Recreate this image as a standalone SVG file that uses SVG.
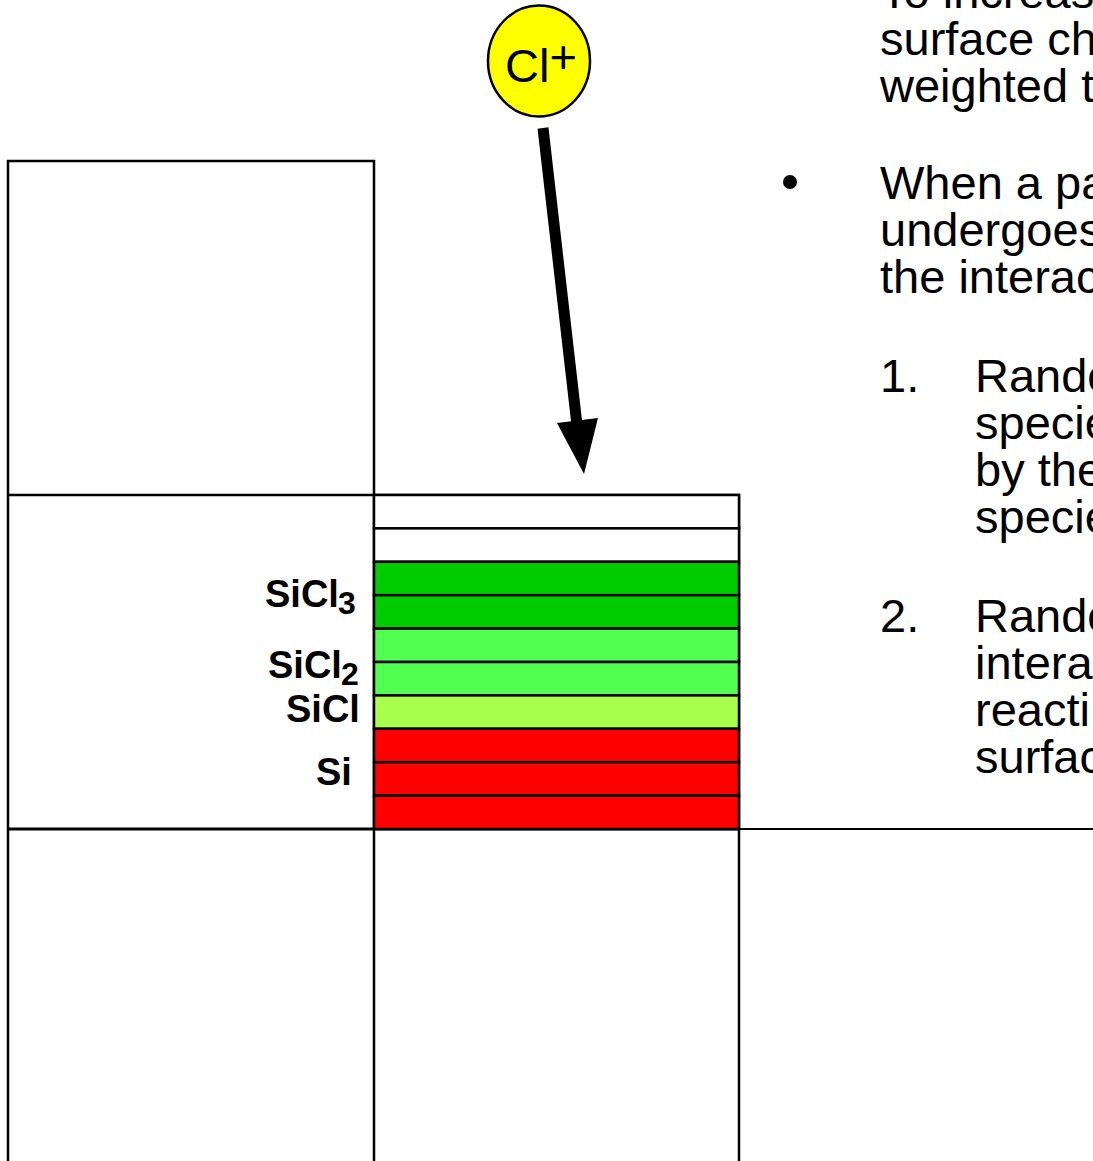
<svg xmlns="http://www.w3.org/2000/svg" width="1093" height="1161" viewBox="0 0 1093 1161">
  <style>
    .grid { stroke: #000; stroke-width: 2.5; fill: none; }
    .layer { stroke: #000; stroke-width: 2.5; }
    .body { font-family: "Liberation Sans", Arial, sans-serif; font-size: 47px; fill: #000; }
    .lbl { font-family: "Liberation Sans", Arial, sans-serif; font-size: 38px; font-weight: bold; fill: #000; }
    .sub { font-size: 32px; }
  </style>

  <rect width="1093" height="1161" fill="#fff"/>

  <!-- surface cells -->
  <g id="grid">
    <path class="grid" d="M8,1161 V161 H374 V1161"/>
    <path class="grid" d="M8,495 H739 V1161"/>
    <path d="M8,829 H739" stroke="#000" stroke-width="3.2"/>
    <path d="M739,829 H1093" stroke="#000" stroke-width="2.2"/>
  </g>

  <!-- layered surface column -->
  <g id="layers">
    <rect class="layer" x="374" y="495" width="365" height="33.4" fill="#fff"/>
    <rect class="layer" x="374" y="528.4" width="365" height="33.4" fill="#fff"/>
    <rect class="layer" x="374" y="561.8" width="365" height="33.4" fill="#00CC00"/>
    <rect class="layer" x="374" y="595.2" width="365" height="33.4" fill="#00CC00"/>
    <rect class="layer" x="374" y="628.6" width="365" height="33.4" fill="#50FF50"/>
    <rect class="layer" x="374" y="662" width="365" height="33.4" fill="#50FF50"/>
    <rect class="layer" x="374" y="695.4" width="365" height="33.4" fill="#A8FF4C"/>
    <rect class="layer" x="374" y="728.8" width="365" height="33.4" fill="#FF0000"/>
    <rect class="layer" x="374" y="762.2" width="365" height="33.4" fill="#FF0000"/>
    <rect class="layer" x="374" y="795.6" width="365" height="33.4" fill="#FF0000"/>
  </g>

  <!-- species labels -->
  <g id="labels">
    <text class="lbl" x="265" y="607">SiCl<tspan class="sub" dx="-1" dy="7">3</tspan></text>
    <text class="lbl" x="268" y="678">SiCl<tspan class="sub" dx="-1" dy="7">2</tspan></text>
    <text class="lbl" x="286" y="722">SiCl</text>
    <text class="lbl" x="316" y="785">Si</text>
  </g>

  <!-- incoming ion -->
  <g id="ion">
    <ellipse cx="539" cy="61" rx="51" ry="55.5" fill="#FFFF00" stroke="#000" stroke-width="2.5"/>
    <text class="body" x="505" y="82" font-size="45">Cl<tspan dy="-9">+</tspan></text>
  </g>

  <!-- trajectory arrow -->
  <g id="connectors">
    <line x1="543" y1="128" x2="577" y2="425" stroke="#000" stroke-width="11"/>
    <polygon points="557,423 598,418 584,474" fill="#000"/>
  </g>

  <!-- explanatory text -->
  <g id="notes">
    <text class="body" x="880" y="8">To increase</text>
    <text class="body" x="880" y="55">surface ch</text>
    <text class="body" x="880" y="102">weighted t</text>

    <circle cx="790" cy="182" r="7" fill="#000"/>
    <text class="body" x="880" y="199">When a pa</text>
    <text class="body" x="880" y="246">undergoes</text>
    <text class="body" x="880" y="293">the interac</text>

    <text class="body" x="880" y="392">1.</text>
    <text class="body" x="975" y="392">Rando</text>
    <text class="body" x="975" y="439">specie</text>
    <text class="body" x="975" y="486">by the</text>
    <text class="body" x="975" y="533">specie</text>

    <text class="body" x="880" y="632">2.</text>
    <text class="body" x="975" y="632">Rando</text>
    <text class="body" x="975" y="679">intera</text>
    <text class="body" x="975" y="726">reacti</text>
    <text class="body" x="975" y="773">surfac</text>
  </g>
</svg>
